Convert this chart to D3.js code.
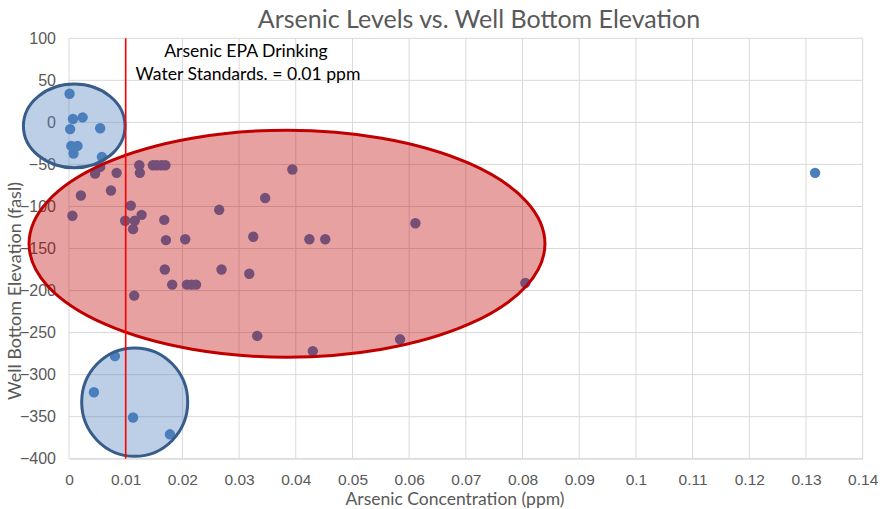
<!DOCTYPE html>
<html>
<head>
<meta charset="utf-8">
<script src="https://cdn.jsdelivr.net/npm/d3@7"></script>
<style>
  html, body { margin: 0; padding: 0; background: #fff; }
  svg { display: block; font-family: Lato, "Open Sans", "Liberation Sans", sans-serif; }
</style>
</head>
<body>
<svg id="chart" width="880" height="509"></svg>
<script>
// Well samples: arsenic concentration (ppm) and well bottom elevation (fasl)
const arsenic = [
  0.0001, 0.0007, 0.0024, 0.0002, 0.0055, 0.0004, 0.0015, 0.0008, 0.0058, 0.0055,
  0.0046, 0.0084, 0.0124, 0.0125, 0.0148, 0.0155, 0.0163, 0.0170, 0.0394, 0.0021,
  0.0074, 0.0346, 0.0006, 0.0109, 0.0265, 0.0099, 0.0116, 0.0128, 0.0113, 0.0168,
  0.0171, 0.0205, 0.0325, 0.0169, 0.0269, 0.0318, 0.0182, 0.0208, 0.0216, 0.0224,
  0.0115, 0.0424, 0.0452, 0.0611, 0.0332, 0.0430, 0.0584, 0.0805, 0.1316, 0.0081,
  0.0044, 0.0113, 0.0178
];
const elevation = [
  34, 4, 6, -8, -7, -28, -28, -37, -41, -53,
  -61, -60, -51, -60, -51, -51, -51, -51, -56, -87,
  -81, -90, -111, -99, -104, -117, -117, -110, -127, -116,
  -140, -139, -136, -175, -175, -180, -193, -193, -193, -193,
  -206, -139, -139, -120, -254, -272, -258, -191, -60, -278,
  -321, -351, -371
];

const xTicks = [0, 0.01, 0.02, 0.03, 0.04, 0.05, 0.06, 0.07, 0.08, 0.09, 0.1, 0.11, 0.12, 0.13, 0.14];
const yTicks = [100, 50, 0, -50, -100, -150, -200, -250, -300, -350, -400];

// EPA drinking water limit
const epaLimit = 0.01;

// Highlighted groups of wells (center and radii in data units)
const groupCx = [0.00092, 0.03845, 0.01159];
const groupCy = [-4.2, -144.3, -332.7];
const groupRx = [0.00896, 0.0455, 0.00935];
const groupRy = [49.8, 135, 64.5];
const groupKind = ["blue", "red", "blue"];

const svg = d3.select("#chart");
const plot = { left: 69, right: 862.7, top: 38.3, bottom: 458.7 };

const x = d3.scaleLinear().domain([0, 0.14]).range([plot.left, plot.right]);
const y = d3.scaleLinear().domain([-400, 100]).range([plot.bottom, plot.top]);

const grey = "#595959";
const gridColor = "#d9d9d9";

// gridlines
const grid = svg.append("g");
grid.selectAll("line.v").data(xTicks).join("line")
  .attr("x1", d => x(d)).attr("x2", d => x(d))
  .attr("y1", plot.top).attr("y2", plot.bottom)
  .attr("stroke", gridColor).attr("stroke-width", 1);
grid.selectAll("line.h").data(yTicks).join("line")
  .attr("x1", plot.left).attr("x2", plot.right)
  .attr("y1", d => y(d)).attr("y2", d => y(d))
  .attr("stroke", gridColor).attr("stroke-width", 1);

// axes (labels only, Excel-style)
const xAxis = d3.axisBottom(x).tickValues(xTicks).tickSize(0).tickPadding(15)
  .tickFormat(d => d3.format("~g")(d));
const gx = svg.append("g").attr("transform", `translate(0,${plot.bottom})`).call(xAxis);
gx.select(".domain").attr("stroke", gridColor);
gx.selectAll("text").attr("fill", grey).attr("font-size", 15.5).attr("font-family", null);

const yAxis = d3.axisLeft(y).tickValues(yTicks).tickSize(0).tickPadding(13)
  .tickFormat(d3.format("d"));
const gy = svg.append("g").attr("transform", `translate(${plot.left},0)`).call(yAxis);
gy.select(".domain").remove();
gy.selectAll("text").attr("fill", grey).attr("font-size", 16).attr("font-family", null);

// data points
const pts = arsenic.map((a, i) => ({ a, e: elevation[i] }));
svg.append("g").selectAll("circle").data(pts).join("circle")
  .attr("cx", d => x(d.a)).attr("cy", d => y(d.e)).attr("r", 5.2)
  .attr("fill", "#4a7ebb");

// group outlines
const groups = groupCx.map((cx, i) => ({ cx, cy: groupCy[i], rx: groupRx[i], ry: groupRy[i], kind: groupKind[i] }));
svg.append("g").selectAll("ellipse").data(groups).join("ellipse")
  .attr("cx", d => x(d.cx)).attr("cy", d => y(d.cy))
  .attr("rx", d => x(d.rx) - x(0)).attr("ry", d => y(0) - y(d.ry))
  .attr("fill", d => d.kind === "red" ? "rgba(192,0,0,0.37)" : "rgba(79,129,189,0.38)")
  .attr("stroke", d => d.kind === "red" ? "#c00000" : "#385d8a")
  .attr("stroke-width", 3);

// EPA limit line
svg.append("line")
  .attr("x1", x(epaLimit)).attr("x2", x(epaLimit))
  .attr("y1", y(100)).attr("y2", y(-400))
  .attr("stroke", "#ff0000").attr("stroke-width", 1.6);

svg.append("text").attr("x", 246).attr("y", 57).attr("text-anchor", "middle")
  .attr("font-size", 17.6).attr("fill", "#000").text("Arsenic EPA Drinking");
svg.append("text").attr("x", 248).attr("y", 80).attr("text-anchor", "middle")
  .attr("font-size", 17.6).attr("fill", "#000").text("Water Standards. = 0.01 ppm");

// titles
svg.append("text").attr("x", 479).attr("y", 28).attr("text-anchor", "middle")
  .attr("font-size", 25).attr("fill", grey).text("Arsenic Levels vs. Well Bottom Elevation");
svg.append("text").attr("x", 455).attr("y", 505).attr("text-anchor", "middle")
  .attr("font-size", 17.5).attr("fill", grey).text("Arsenic Concentration (ppm)");
svg.append("text").attr("transform", "translate(21,291) rotate(-90)").attr("text-anchor", "middle")
  .attr("font-size", 18).attr("fill", grey).text("Well Bottom Elevation (fasl)");
</script>
</body>
</html>
